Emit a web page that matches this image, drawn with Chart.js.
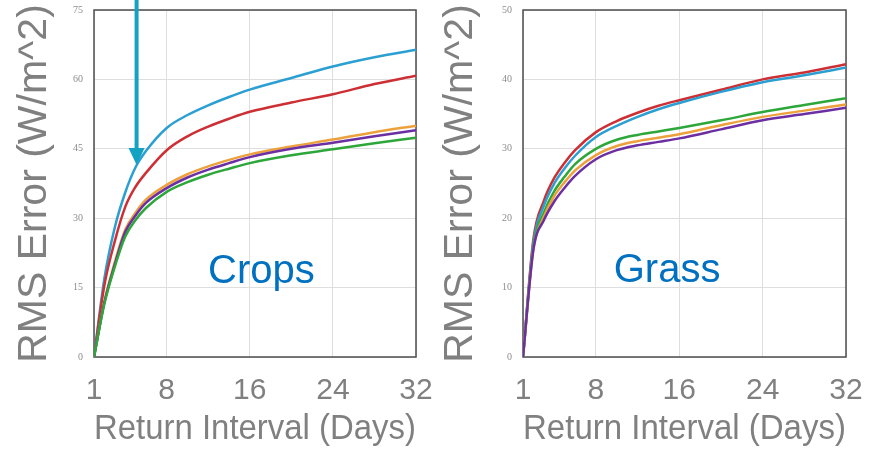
<!DOCTYPE html>
<html>
<head>
<meta charset="utf-8">
<script src="https://cdn.jsdelivr.net/npm/chart.js@4.4.0/dist/chart.umd.min.js"></script>
<style>
  body { margin: 0; background: #fff; width: 878px; height: 457px; position: relative; overflow: hidden; }
  .panel { position: absolute; top: 0; height: 457px; }
  #caja-crops { left: 0; width: 440px; }
  #caja-grass { left: 420px; width: 458px; }
</style>
</head>
<body>
<div class="panel" id="caja-crops"><canvas id="crops" width="440" height="457"></canvas></div>
<div class="panel" id="caja-grass"><canvas id="grass" width="458" height="457"></canvas></div>
<script>
// Dias del intervalo de retorno (eje x)
const dias = [1, 2, 3, 4, 5, 6, 8, 10, 12, 14, 16, 20, 24, 28, 32];
const ticksDias = [1, 8, 16, 24, 32];

// Crops (RMS error, W/m^2)
const cropsCian    = [0, 17, 28, 35.5, 41, 44.5, 49.5, 52.3, 54.4, 56.2, 57.8, 60.3, 62.8, 64.8, 66.4];
const cropsRojo    = [0, 15.5, 25, 32.4, 36.8, 39.8, 44.7, 47.7, 49.8, 51.5, 53, 55, 56.8, 59, 60.8];
const cropsNaranja = [0, 12, 20.5, 27.5, 31.2, 34, 37.2, 39.5, 41.2, 42.6, 43.8, 45.5, 47, 48.6, 50];
const cropsMorado  = [0, 11.8, 20, 27, 30.6, 33.3, 36.5, 38.8, 40.5, 41.9, 43.2, 45, 46.3, 47.7, 49];
const cropsVerde   = [0, 11.5, 19.5, 26, 29.6, 32.2, 35.7, 37.8, 39.4, 40.7, 41.9, 43.6, 44.9, 46.2, 47.4];

// Grass (RMS error, W/m^2)
const grassRojo    = [0, 17, 22.5, 25.8, 28, 29.8, 32.4, 34, 35.2, 36.2, 37, 38.5, 40, 41, 42.2];
const grassCian    = [0, 16.5, 21.8, 25, 27.2, 29, 31.7, 33.3, 34.6, 35.7, 36.6, 38.2, 39.6, 40.6, 41.7];
const grassVerde   = [0, 16, 20.8, 23.9, 26, 27.8, 30, 31.3, 32, 32.5, 33, 34.1, 35.3, 36.3, 37.3];
const grassNaranja = [0, 15.5, 20.2, 23.2, 25.2, 26.9, 29.1, 30.4, 31.1, 31.6, 32.1, 33.4, 34.6, 35.5, 36.4];
const grassMorado  = [0, 15.5, 19.7, 22.4, 24.4, 26.1, 28.5, 29.8, 30.5, 31, 31.5, 32.8, 34.1, 35, 35.9];

// Flecha que senala la curva cian en Crops
const flechaDia = 5.1;
const flechaValor = 41.5;

const fuente = '"Liberation Sans", Arial, sans-serif';
const gris = '#808080';
const colores = { cian: '#2c9fd2', rojo: '#cc2f34', naranja: '#eda13c', morado: '#6b2fa3', verde: '#2da63a' };

function serie(valores, color) {
  return {
    data: dias.map((d, i) => ({ x: d, y: valores[i] })),
    borderColor: color,
    borderWidth: 2.5,
    pointRadius: 0,
    cubicInterpolationMode: 'monotone',
    fill: false
  };
}

// Marco, etiqueta azul y flecha
const marcoPlugin = {
  id: 'marco',
  beforeDatasetsDraw(chart) {
    const { ctx, chartArea: a } = chart;
    ctx.save();
    ctx.strokeStyle = '#4d4d4d';
    ctx.lineWidth = 1.5;
    ctx.strokeRect(a.left, a.top, a.right - a.left, a.bottom - a.top);
    ctx.restore();
  },
  afterDraw(chart, args, opts) {
    const { ctx, chartArea: a } = chart;
    ctx.save();
    ctx.fillStyle = '#0070c0';
    ctx.font = '40px ' + fuente;
    ctx.textAlign = 'center';
    ctx.textBaseline = 'alphabetic';
    ctx.fillText(opts.texto, a.left + opts.tx * (a.right - a.left), a.top + opts.ty * (a.bottom - a.top));
    if (opts.flecha) {
      const xa = chart.scales.x.getPixelForValue(flechaDia);
      const ya = chart.scales.y.getPixelForValue(flechaValor);
      ctx.strokeStyle = '#14a2c2';
      ctx.fillStyle = '#14a2c2';
      ctx.lineWidth = 4;
      ctx.beginPath();
      ctx.moveTo(xa, 0);
      ctx.lineTo(xa, ya - 15);
      ctx.stroke();
      ctx.beginPath();
      ctx.moveTo(xa - 8, ya - 17);
      ctx.lineTo(xa + 8, ya - 17);
      ctx.lineTo(xa, ya);
      ctx.closePath();
      ctx.fill();
    }
    ctx.restore();
  }
};

function crearGrafico(id, datasets, yMax, yPaso, anchoEjeY, padDerecha, padTitulo, etiqueta, tx, ty, flecha) {
  return new Chart(document.getElementById(id), {
    type: 'line',
    data: { datasets: datasets },
    plugins: [marcoPlugin],
    options: {
      responsive: false,
      animation: false,
      layout: { padding: { top: 10, right: padDerecha, bottom: 0, left: 0 } },
      plugins: {
        legend: { display: false },
        tooltip: { enabled: false },
        marco: { texto: etiqueta, tx: tx, ty: ty, flecha: flecha }
      },
      scales: {
        x: {
          type: 'linear',
          min: 1,
          max: 32,
          afterBuildTicks: (eje) => { eje.ticks = ticksDias.map(v => ({ value: v })); },
          afterFit: (eje) => { eje.height = 100; eje.paddingLeft = 0; eje.paddingRight = 0; },
          grid: { color: '#dedede', drawTicks: false },
          border: { display: false },
          ticks: { color: gris, font: { size: 30, family: fuente }, padding: 16, maxRotation: 0, autoSkip: false },
          title: { display: true, text: 'Return Interval (Days)', color: gris, font: { size: 35, family: fuente }, padding: { top: 0, bottom: 7 } }
        },
        y: {
          min: 0,
          max: yMax,
          afterFit: (eje) => { eje.width = anchoEjeY; eje.paddingTop = 0; eje.paddingBottom = 0; },
          grid: { color: '#dedede', drawTicks: false },
          border: { display: false },
          ticks: { stepSize: yPaso, color: '#8c8c8c', font: { size: 10, family: '"Liberation Serif", serif' }, padding: 11 },
          title: { display: true, text: 'RMS Error (W/m^2)', color: gris, font: { size: 41, family: fuente }, padding: { top: padTitulo, bottom: 0 } }
        }
      }
    }
  });
}

crearGrafico('crops', [
  serie(cropsVerde, colores.verde),
  serie(cropsMorado, colores.morado),
  serie(cropsNaranja, colores.naranja),
  serie(cropsRojo, colores.rojo),
  serie(cropsCian, colores.cian)
], 75, 15, 94, 24, 10, 'Crops', 0.52, 0.787, true);

crearGrafico('grass', [
  serie(grassMorado, colores.morado),
  serie(grassNaranja, colores.naranja),
  serie(grassVerde, colores.verde),
  serie(grassCian, colores.cian),
  serie(grassRojo, colores.rojo)
], 50, 10, 103, 32, 16, 'Grass', 0.446, 0.784, false);
</script>
</body>
</html>
